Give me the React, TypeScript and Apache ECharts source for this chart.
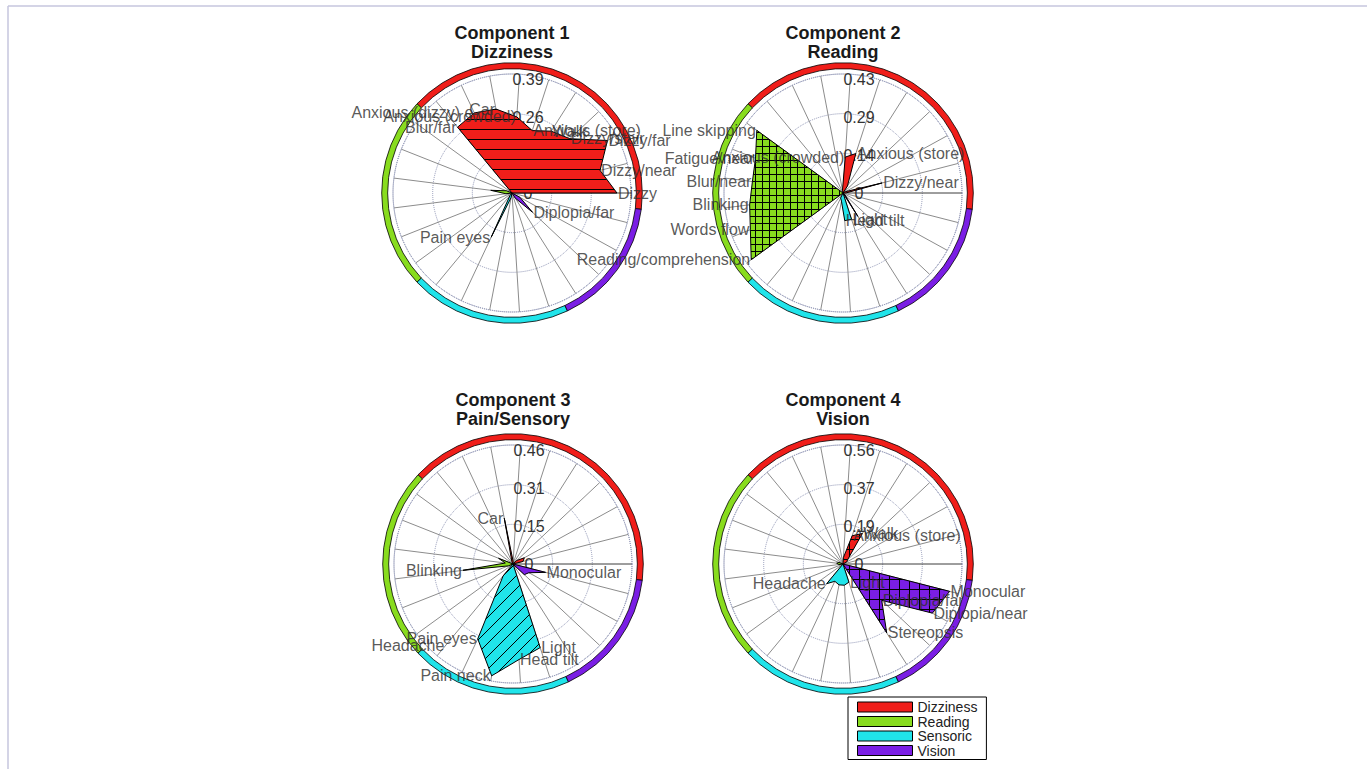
import React, { useEffect, useRef } from 'react';
import * as echarts from 'echarts';

// Symptom items, ordered around the circle (counter-clockwise from 0°)
const variables = [
  'Dizzy', 'Dizzy/near', 'Dizzy/far', 'Dizzy/stair', 'Walk', 'Anxious (store)',
  'Anxious (crowded)', 'Car', 'Anxious (dizzy) e', 'Blur/far',
  'Line skipping', 'Fatigue/near', 'Blur/near', 'Blinking', 'Words flow', 'Reading/comprehension',
  'Headache', 'Pain eyes', 'Pain neck', 'Head tilt', 'Light',
  'Stereopsis', 'Diplopia/far', 'Diplopia/near', 'Monocular',
];

const groupNames = ['Dizziness', 'Reading', 'Sensoric', 'Vision'];
const groupSizes = [10, 6, 5, 4];
const groupColors = ['#f01e1a', '#88dc1e', '#20e4ea', '#7a1ee4'];

const componentTitles = ['Component 1', 'Component 2', 'Component 3', 'Component 4'];
const componentNames = ['Dizziness', 'Reading', 'Pain/Sensory', 'Vision'];
const radialMax = [0.39, 0.43, 0.46, 0.56];
const radialTicks = [
  ['0', '0.13', '0.26', '0.39'],
  ['0', '0.14', '0.29', '0.43'],
  ['0', '0.15', '0.31', '0.46'],
  ['0', '0.19', '0.37', '0.56'],
];

// Loadings of every item on each component
const loadingsC1 = [
  0.344, 0.298, 0.357, 0.26, 0.24, 0.215, 0.25, 0.28, 0.29, 0.28,
  0.0, 0.02, 0.07, 0.02, 0.0, 0.0,
  0.01, 0.16, 0.015, 0.0, 0.0,
  0.02, 0.092, 0.03, 0.0,
];
const loadingsC2 = [
  0.01, 0.146, 0.01, 0.0, 0.03, 0.15, 0.13, 0.01, 0.0, 0.0,
  0.385, 0.34, 0.33, 0.34, 0.36, 0.41,
  0.0, 0.02, 0.03, 0.1, 0.1,
  0.1, 0.01, 0.0, 0.0,
];
const loadingsC3 = [
  0.0, 0.04, 0.05, 0.02, 0.0, 0.0, 0.01, 0.18, 0.01, 0.0,
  0.0, 0.06, 0.03, 0.195, 0.02, 0.0,
  0.06, 0.32, 0.44, 0.37, 0.34,
  0.0, 0.06, 0.07, 0.13,
];
const loadingsC4 = [
  0.0, 0.0, 0.02, 0.03, 0.17, 0.14, 0.03, 0.0, 0.0, 0.0,
  0.0, 0.02, 0.03, 0.02, 0.0, 0.0,
  0.12, 0.09, 0.1, 0.1, 0.09,
  0.384, 0.25, 0.48, 0.518,
];
const loadings = [loadingsC1, loadingsC2, loadingsC3, loadingsC4];

// Items whose names are written next to their vertex
const labelledC1 = [0, 1, 2, 3, 4, 5, 6, 7, 8, 9, 17, 22];
const labelledC2 = [1, 5, 6, 10, 11, 12, 13, 14, 15, 19, 20];
const labelledC3 = [7, 13, 16, 17, 18, 19, 20, 24];
const labelledC4 = [4, 5, 16, 20, 21, 22, 23, 24];
const labelled = [labelledC1, labelledC2, labelledC3, labelledC4];
// name anchors that sit away from the vertex (item index -> radius)
const labelRadiusOverride: Record<number, number>[] = [{}, {}, { 16: 0.41 }, {}];

// Hatching of the dominant group in each panel
const hatchKinds = ['horizontal', 'grid', 'diagonal', 'grid'];
const hatchSpacing = [10, 7, 13, 10];

const centers = [[512, 193], [843, 193], [513, 564], [843, 564]];
const titleY = [33, 33, 400, 400];
const plotRadius = 119;
const FONT = '"Liberation Sans", Arial, Helvetica, sans-serif';

function makeHatch(color: string, kind: string, size: number) {
  const c = document.createElement('canvas');
  c.width = size;
  c.height = size;
  const g = c.getContext('2d')!;
  g.fillStyle = color;
  g.fillRect(0, 0, size, size);
  g.strokeStyle = '#000';
  g.lineWidth = 1;
  g.beginPath();
  if (kind === 'horizontal' || kind === 'grid') {
    g.moveTo(0, size - 0.5);
    g.lineTo(size, size - 0.5);
  }
  if (kind === 'grid') {
    g.moveTo(size - 0.5, 0);
    g.lineTo(size - 0.5, size);
  }
  if (kind === 'diagonal') {
    g.moveTo(-1, size + 1);
    g.lineTo(size + 1, -1);
  }
  g.stroke();
  return c;
}

export default function App() {
  const ref = useRef<HTMLDivElement>(null);

  useEffect(() => {
    if (!ref.current) return;
    const chart = echarts.init(ref.current, undefined, { renderer: 'svg' });
    const n = variables.length;
    const step = 360 / n;
    const groupStart: number[] = [];
    groupSizes.reduce((acc, s) => {
      groupStart.push(acc);
      return acc + s;
    }, 0);

    const spokeColors = variables.map((_, i) => (i === 0 ? '#3c3c3c' : '#8c8c8c'));

    const polar: any[] = [];
    const angleAxis: any[] = [];
    const radiusAxis: any[] = [];
    const series: any[] = [];

    for (let k = 0; k < 4; k++) {
      const max = radialMax[k];
      polar.push({ center: centers[k], radius: plotRadius });
      polar.push({ center: centers[k], radius: plotRadius - 5 });
      angleAxis.push({
        polarIndex: 2 * k, type: 'value', min: 0, max: 360, interval: step,
        startAngle: 0, clockwise: false,
        axisLine: { show: true, lineStyle: { type: 'dotted', color: '#8f95b5', width: 1 } },
        axisTick: { show: false }, axisLabel: { show: false },
        splitLine: { show: true, lineStyle: { color: spokeColors, width: 1 } },
      });
      angleAxis.push({
        polarIndex: 2 * k + 1, type: 'value', min: 0, max: 360, startAngle: 90,
        axisLine: { show: false }, axisTick: { show: false }, axisLabel: { show: false },
        splitLine: { show: false },
      });
      radiusAxis.push({
        polarIndex: 2 * k, type: 'value', min: 0, max, interval: max / 3,
        axisLine: { show: false }, axisTick: { show: false }, axisLabel: { show: false },
        splitLine: { show: true, lineStyle: { type: 'dotted', color: '#8f95b5', width: 1 } },
      });
      radiusAxis.push({
        polarIndex: 2 * k + 1, type: 'value', min: 0, max, interval: max / 3,
        axisLine: { show: false }, axisTick: { show: false }, splitLine: { show: false },
        axisLabel: {
          show: true, margin: 0, align: 'center', padding: [0, 0, 0, 32],
          fontSize: 16, fontFamily: FONT, color: '#333',
          formatter: (v: number) => radialTicks[k][Math.round(v / (max / 3))],
        },
      });

      // filled loading polygons, one per item group
      for (let g = 0; g < 4; g++) {
        const start = groupStart[g];
        const data: number[][] = [];
        for (let i = start; i < start + groupSizes[g]; i++) data.push([loadings[k][i], i * step]);
        const hatched = g === k || (k === 3 && g === 0);
        const fill = hatched
          ? { image: makeHatch(groupColors[g], hatchKinds[k], hatchSpacing[k]), repeat: 'repeat' }
          : groupColors[g];
        series.push({
          type: 'custom', coordinateSystem: 'polar', polarIndex: 2 * k, silent: true, z: 3,
          data,
          renderItem: (params: any, api: any) => {
            if (params.dataIndex !== 0) return null;
            const c = api.coord([0, 0]);
            const pts = [c];
            for (let j = 0; j < params.dataInsideLength; j++) {
              pts.push(api.coord([api.value(0, j), api.value(1, j)]));
            }
            pts.push(c);
            return {
              type: 'polygon',
              shape: { points: pts },
              style: { fill, stroke: '#000', lineWidth: 1 },
            };
          },
        });
      }

      // coloured rim marking the item groups
      for (let g = 0; g < 4; g++) {
        const a0 = (groupStart[g] - 0.5) * step;
        const a1 = (groupStart[g] + groupSizes[g] - 0.5) * step;
        series.push({
          type: 'custom', name: groupNames[g], coordinateSystem: 'polar', polarIndex: 2 * k,
          silent: true, z: 4,
          itemStyle: { color: groupColors[g] },
          data: [[max, a0]],
          renderItem: (params: any, api: any) => {
            const outer: number[][] = [];
            const inner: number[][] = [];
            for (let a = a0; a <= a1 + 1e-6; a += step / 2) {
              outer.push(api.coord([max * 1.095, a]));
              inner.unshift(api.coord([max * 1.045, a]));
            }
            return {
              type: 'polygon',
              shape: { points: outer.concat(inner) },
              style: { fill: groupColors[g], stroke: '#000', lineWidth: 0.8 },
            };
          },
        });
      }

      // item names at their vertices
      series.push({
        type: 'scatter', coordinateSystem: 'polar', polarIndex: 2 * k, silent: true, z: 5,
        symbolSize: 0,
        itemStyle: { color: 'rgba(0,0,0,0)' },
        label: { show: true, formatter: '{b}', distance: 1, fontSize: 16, fontFamily: FONT, color: '#2e2e2e' },
        data: labelled[k].map((i) => {
          const ang = i * step;
          const rightAligned = ang > 80 && ang < 270;
          const r = labelRadiusOverride[k][i] ?? loadings[k][i];
          return {
            name: variables[i],
            value: [r, ang],
            label: { position: rightAligned ? 'left' : 'right' },
          };
        }),
      });
    }

    const graphic: any[] = [
      { type: 'line', silent: true, shape: { x1: 8, y1: 6, x2: 1367, y2: 6 }, style: { stroke: '#c6c6de', lineWidth: 1.5 } },
      { type: 'line', silent: true, shape: { x1: 8, y1: 6, x2: 8, y2: 769 }, style: { stroke: '#c6c6de', lineWidth: 1.5 } },
    ];
    for (let k = 0; k < 4; k++) {
      graphic.push({
        type: 'text', silent: true, x: centers[k][0], y: titleY[k],
        style: { text: componentTitles[k], align: 'center', verticalAlign: 'middle', font: `bold 18px ${FONT}`, fill: '#1a1a1a' },
      });
      graphic.push({
        type: 'text', silent: true, x: centers[k][0], y: titleY[k] + 18.5,
        style: { text: componentNames[k], align: 'center', verticalAlign: 'middle', font: `bold 18px ${FONT}`, fill: '#1a1a1a' },
      });
    }

    chart.setOption({
      animation: false,
      backgroundColor: '#fff',
      textStyle: { fontFamily: FONT },
      polar,
      angleAxis,
      radiusAxis,
      legend: {
        data: groupNames,
        orient: 'vertical',
        left: 848, top: 697,
        icon: 'rect', itemWidth: 55, itemHeight: 10, itemGap: 0.5,
        padding: [3, 9, 2, 9],
        borderColor: '#000', borderWidth: 1, backgroundColor: '#fff',
        itemStyle: { borderColor: '#000', borderWidth: 1 },
        textStyle: { fontSize: 14, fontFamily: FONT, color: '#222', lineHeight: 14 },
        selectedMode: false,
      },
      graphic,
      series,
    });
    return () => chart.dispose();
  }, []);

  return <div ref={ref} style={{ position: 'fixed', left: 0, top: 0, width: 1367, height: 769 }} />;
}
